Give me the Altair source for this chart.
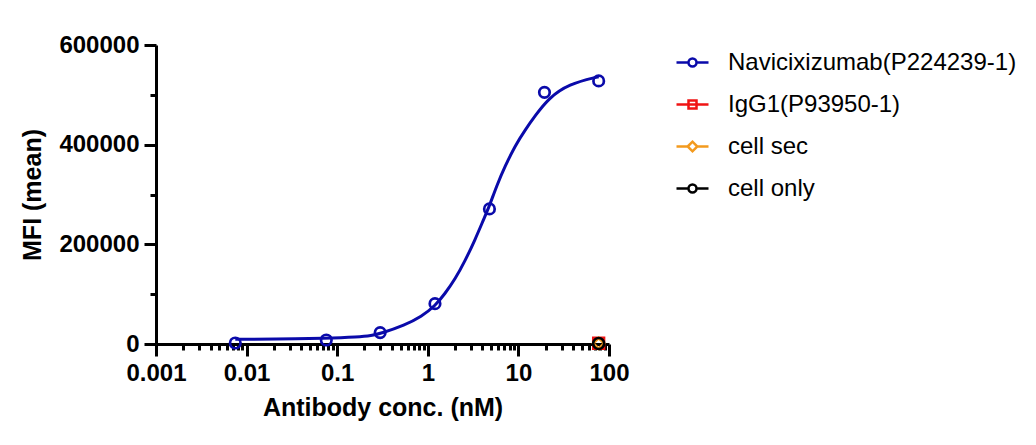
import altair as alt
import pandas as pd

FONT = 'Liberation Sans'

SERIES = ['Navicixizumab(P224239-1)', 'IgG1(P93950-1)', 'cell sec', 'cell only']
COLORS = ['#0A0AAA', '#F01414', '#F39A1E', '#000000']
POINT_SHAPES = ['circle', 'square', 'diamond', 'circle']
POINT_SIZES = [110, 120, 40, 20]
# legend glyphs: short line with the marker in the middle
LEGEND_SHAPES = [
    'M-1,0L-0.25,0M0.25,0L1,0M-0.25,0A0.25,0.25,0,1,0,0.25,0A0.25,0.25,0,1,0,-0.25,0Z',
    'M-1,0L1,0M-0.25,-0.25L0.25,-0.25L0.25,0.25L-0.25,0.25Z',
    'M-1,0L-0.3,0M0.3,0L1,0M-0.3,0L0,-0.3L0.3,0L0,0.3Z',
    'M-1,0L-0.25,0M0.25,0L1,0M-0.25,0A0.25,0.25,0,1,0,0.25,0A0.25,0.25,0,1,0,-0.25,0Z',
]

# measured points (conc. in nM, MFI mean)
navi_conc = [0.0075, 0.0758, 0.298, 1.2, 4.79, 19.4, 76.9]
navi_mfi = [2000, 8000, 23000, 81000, 271000, 505000, 528000]
igg_conc = [76.9]
igg_mfi = [1500]
sec_conc = [76.9]
sec_mfi = [1200]
only_conc = [76.9]
only_mfi = [1000]

# fitted curve for Navicixizumab
fit_conc = [0.0075, 0.02, 0.0758, 0.17, 0.239, 0.3, 0.558, 0.85, 1.21, 1.546,
            2.0, 2.58, 3.32, 4.11, 4.79, 5.77, 7.13, 9.2, 11.9, 15.3, 21.5,
            35.8, 76.9]
fit_mfi = [9400, 9600, 11400, 14000, 16700, 21000, 38100, 55000, 77000,
           101000, 130000, 167000, 209000, 249000, 277000, 318000, 357000,
           398000, 430000, 458000, 493000, 521700, 536400]

X_MAJOR = [0.001, 0.01, 0.1, 1, 10, 100]
X_MINOR = [round(m * d, 4) for d in [0.001, 0.01, 0.1, 1, 10] for m in range(2, 10)]
Y_MAJOR = [0, 200000, 400000, 600000]
Y_MINOR = [100000, 300000, 500000]

points = pd.concat([
    pd.DataFrame({'conc': navi_conc, 'mfi': navi_mfi, 'series': SERIES[0]}),
    pd.DataFrame({'conc': igg_conc, 'mfi': igg_mfi, 'series': SERIES[1]}),
    pd.DataFrame({'conc': sec_conc, 'mfi': sec_mfi, 'series': SERIES[2]}),
    pd.DataFrame({'conc': only_conc, 'mfi': only_mfi, 'series': SERIES[3]}),
], ignore_index=True)
fit = pd.DataFrame({'conc': fit_conc, 'mfi': fit_mfi, 'series': SERIES[0]})

x_scale = alt.Scale(type='log', domain=[0.001, 100], nice=False)
y_scale = alt.Scale(domain=[0, 600000], nice=False, zero=False)
color_scale = alt.Scale(domain=SERIES, range=COLORS)

major_x = alt.Axis(values=X_MAJOR, format='~g', orient='bottom', tickSize=12,
                   labelPadding=5, labelFlush=False,
                   title='Antibody conc. (nM)', titlePadding=10)
minor_x = alt.Axis(values=X_MINOR, labels=False, domain=False, orient='bottom',
                   tickSize=6, title=None, grid=False)
major_y = alt.Axis(values=Y_MAJOR, format='d', orient='left', tickSize=12,
                   labelPadding=5, labelFlush=False,
                   title='MFI (mean)', titlePadding=13)
minor_y = alt.Axis(values=Y_MINOR, labels=False, domain=False, orient='left',
                   tickSize=6, title=None, grid=False)

curve = alt.Chart(fit).mark_line(interpolate='basis', strokeWidth=3, color=COLORS[0]).encode(
    x=alt.X('conc:Q', scale=x_scale, axis=major_x),
    y=alt.Y('mfi:Q', scale=y_scale, axis=major_y),
)

markers = alt.Chart(points).mark_point(filled=False, strokeWidth=2.7, opacity=1).encode(
    x=alt.X('conc:Q', scale=x_scale, axis=minor_x),
    y=alt.Y('mfi:Q', scale=y_scale, axis=minor_y),
    color=alt.Color('series:N', scale=color_scale, legend=None),
    shape=alt.Shape('series:N', scale=alt.Scale(domain=SERIES, range=POINT_SHAPES), legend=None),
    size=alt.Size('series:N', scale=alt.Scale(domain=SERIES, range=POINT_SIZES), legend=None),
)

legend_layer = alt.Chart(points).mark_point(filled=False, opacity=0).encode(
    x=alt.X('conc:Q', scale=x_scale, axis=None),
    y=alt.Y('mfi:Q', scale=y_scale, axis=None),
    color=alt.Color('series:N', scale=color_scale, title=None),
    shape=alt.Shape('series:N', scale=alt.Scale(domain=SERIES, range=LEGEND_SHAPES), title=None),
)

chart = alt.layer(curve, markers, legend_layer).resolve_axis(
    x='independent', y='independent'
).resolve_scale(
    color='independent', shape='independent'
).properties(
    width=453, height=299,
    padding={'left': 12, 'top': 25, 'right': 5, 'bottom': 5},
).configure_view(
    stroke=None
).configure_axis(
    domainColor='black', domainWidth=3, tickColor='black', tickWidth=3,
    labelFont=FONT, labelFontSize=24, labelFontWeight='bold', labelColor='black',
    titleFont=FONT, titleFontSize=25, titleFontWeight='bold', titleColor='black',
    grid=False,
).configure_legend(
    orient='right', offset=66, padding=0, symbolSize=1024, symbolStrokeWidth=2.5,
    symbolOpacity=1, labelFont=FONT, labelFontSize=24, labelColor='black',
    labelOffset=18, rowPadding=12, labelLimit=400,
)

chart.save('out.html', embed_options={'renderer': 'svg', 'actions': False})
